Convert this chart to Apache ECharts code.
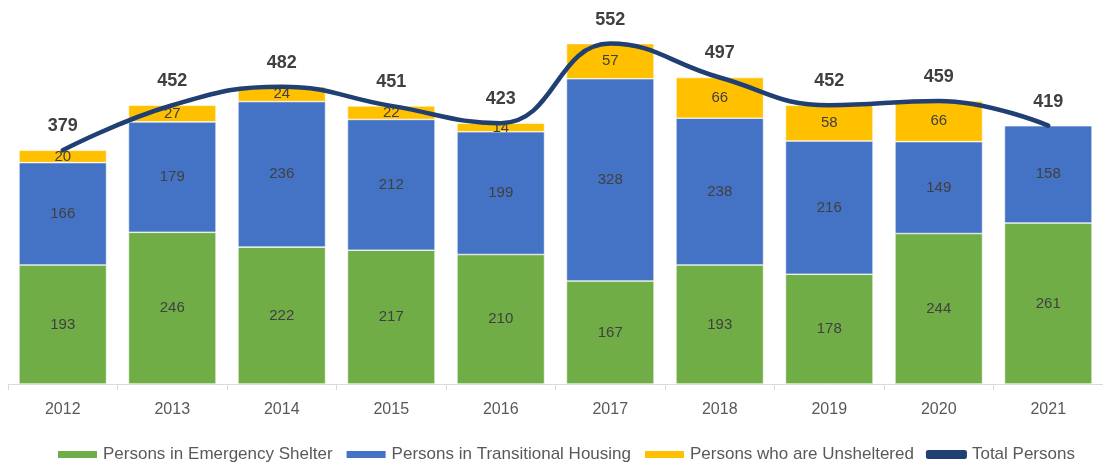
<!DOCTYPE html>
<html>
<head>
<meta charset="utf-8">
<script src="https://cdn.jsdelivr.net/npm/echarts@6/dist/echarts.min.js"></script>
<style>
  html, body { margin: 0; padding: 0; background: #fff; }
  #chart { width: 1103px; height: 463px; }
</style>
</head>
<body>
<div id="chart"></div>
<script>
const years = ["2012", "2013", "2014", "2015", "2016", "2017", "2018", "2019", "2020", "2021"];
const emergencyShelter = [193, 246, 222, 217, 210, 167, 193, 178, 244, 261];
const transitionalHousing = [166, 179, 236, 212, 199, 328, 238, 216, 149, 158];
const unsheltered = [20, 27, 24, 22, 14, 57, 66, 58, 66, 0];
const totalPersons = [379, 452, 482, 451, 423, 552, 497, 452, 459, 419];

const font = "'Liberation Sans', 'Noto Sans', sans-serif";

const chart = echarts.init(document.getElementById("chart"));

const segLabel = {
  show: true,
  position: "inside",
  color: "#404040",
  fontSize: 15,
  fontFamily: font,
  formatter: p => (p.value ? p.value : "")
};

chart.setOption({
  animation: false,
  color: ["#70AD47", "#4472C4", "#FFC000", "#203F73"],
  grid: {
    left: 8,
    top: 14,
    width: 1105,
    height: 370
  },
  legend: {
    top: 441,
    left: 51,
    itemGap: 12,
    itemWidth: 41,
    itemHeight: 9,
    textStyle: { color: "#595959", fontSize: 17, fontFamily: font },
    data: [
      { name: "Persons in Emergency Shelter", icon: "rect" },
      { name: "Persons in Transitional Housing", icon: "rect" },
      { name: "Persons who are Unsheltered", icon: "rect" },
      { name: "Total Persons", icon: "roundRect", itemStyle: { color: "#203F73" } }
    ]
  },
  xAxis: {
    type: "category",
    data: years,
    axisLine: { lineStyle: { color: "#D9D9D9", width: 1 } },
    axisTick: { show: true, length: 6, lineStyle: { color: "#D9D9D9" } },
    axisLabel: { color: "#595959", fontSize: 16, fontFamily: font, margin: 18 }
  },
  yAxis: {
    type: "value",
    min: 0,
    max: 600,
    show: false,
    splitLine: { show: false }
  },
  series: [
    {
      name: "Persons in Emergency Shelter",
      type: "bar",
      stack: "p",
      barCategoryGap: "20%",
      data: emergencyShelter,
      itemStyle: { borderColor: "#ffffff", borderWidth: 0.6 },
      label: segLabel
    },
    {
      name: "Persons in Transitional Housing",
      type: "bar",
      stack: "p",
      data: transitionalHousing,
      itemStyle: { borderColor: "#ffffff", borderWidth: 0.6 },
      label: segLabel
    },
    {
      name: "Persons who are Unsheltered",
      type: "bar",
      stack: "p",
      data: unsheltered,
      itemStyle: { borderColor: "#ffffff", borderWidth: 0.6 },
      label: segLabel
    },
    {
      name: "Total Persons",
      type: "line",
      data: totalPersons,
      smooth: 0.45,
      symbol: "circle",
      symbolSize: 2,
      showSymbol: true,
      itemStyle: { color: "#203F73" },
      lineStyle: { color: "#203F73", width: 4.5, cap: "round" },
      z: 5,
      label: {
        show: true,
        position: "top",
        distance: 14,
        color: "#404040",
        fontSize: 18,
        fontWeight: "bold",
        fontFamily: font
      }
    }
  ]
});
</script>
</body>
</html>
